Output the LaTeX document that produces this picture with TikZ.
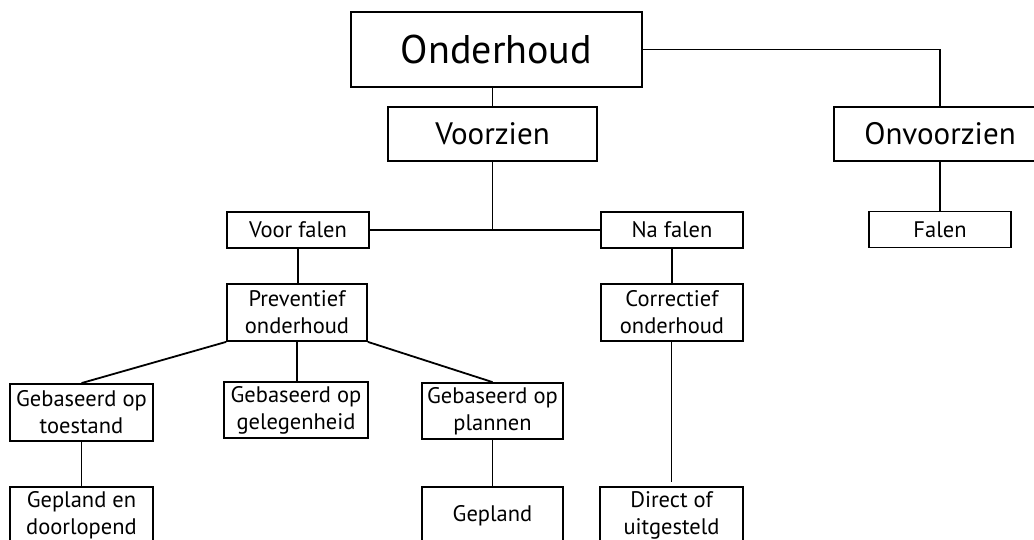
\documentclass[tikz,border=0pt]{standalone}
\usepackage{fontspec}
\setmainfont{PT Sans}
\begin{document}
\begin{tikzpicture}[x=1pt,y=-1pt,
  bx/.style={draw, line width=1.8pt, inner sep=0pt, align=center, fill=white},
  bigbox/.style={bx, minimum width=291pt, minimum height=75pt, font=\fontsize{40}{48}\selectfont},
  midbox/.style={bx, minimum width=209pt, minimum height=54pt, font=\fontsize{31}{36}\selectfont},
  smallbox/.style={bx, minimum width=142pt, minimum height=36pt, font=\fontsize{22.5}{27}\selectfont},
  twobox/.style={bx, minimum width=142pt, minimum height=57pt, font=\fontsize{22.5}{27}\selectfont},
  conn/.style={line width=1.8pt}]
\clip (0,0) rectangle (1034,540);
\fill[white] (0,0) rectangle (1034,540);
% top levels
\node[bigbox] (ond) at (496.5,49.5) {Onderhoud};
\node[midbox] (voor) at (492.5,134) {Voorzien};
\node[midbox, minimum width=212pt] (onv) at (940,134) {Onvoorzien};
\node[smallbox] (falen) at (940,229.5) {Falen};
% second level
\node[smallbox] (vf) at (298,230) {Voor falen};
\node[smallbox] (nf) at (672,230) {Na falen};
\node[twobox, minimum width=140pt] (prev) at (297,312.5) {Preventief\\onderhoud};
\node[twobox] (corr) at (672,312.5) {Correctief\\onderhoud};
% third level
\node[twobox, minimum width=143pt] (toe) at (81.5,412.5) {Gebaseerd op\\toestand};
\node[twobox, minimum width=144pt, minimum height=56pt] (gel) at (296,410) {Gebaseerd op\\gelegenheid};
\node[twobox, minimum width=141pt, minimum height=56pt] (pla) at (492.5,411) {Gebaseerd op\\plannen};
% bottom level
\node[twobox, minimum width=143pt] (gep1) at (81.5,515.5) {Gepland en\\doorlopend};
\node[twobox, minimum width=141pt] (gep2) at (492.5,515.5) {Gepland};
\node[twobox, minimum width=143pt] (dir) at (671.5,515.5) {Direct of\\uitgesteld};
% connectors
\draw[conn] (ond.east) -| (falen.north |- onv.north);
\draw[conn] (onv.south -| falen.north) -- (falen.north);
\draw[conn] (ond.south -| voor.north) -- (voor.north);
\draw[conn] (vf.east) -- (nf.west);
\draw[conn] (voor.south) -- (voor.south |- vf.east);
\draw[conn] (vf.south) -- (vf.south |- prev.north);
\draw[conn] (nf.south) -- (corr.north);
\draw[conn] (prev.south west) -- (toe.north);
\draw[conn] (prev.south) -- (prev.south |- gel.north);
\draw[conn] (prev.south east) -- (pla.north);
\draw[conn] (toe.south) -- (gep1.north);
\draw[conn] (pla.south) -- (gep2.north);
\draw[conn, shorten >=4pt] (corr.south -| dir.north) -- (dir.north);
\end{tikzpicture}
\end{document}
